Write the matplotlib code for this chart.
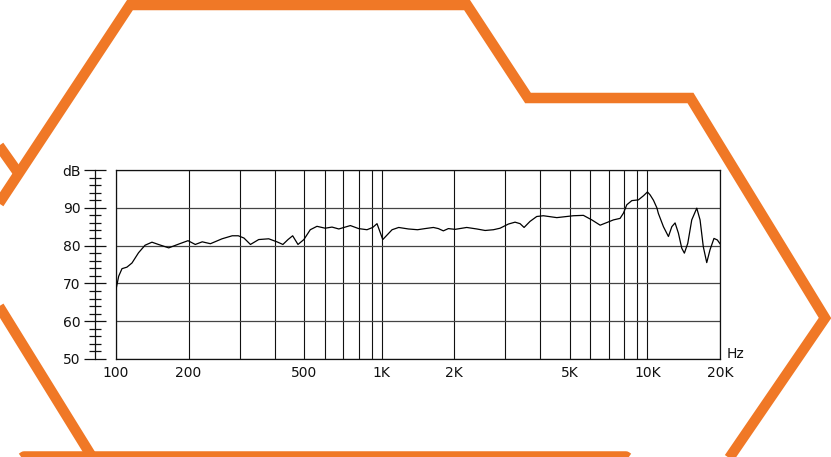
import numpy as np
import matplotlib
matplotlib.use("Agg")
import matplotlib.pyplot as plt
from matplotlib.ticker import FixedLocator, MultipleLocator, NullFormatter

# ---------------- data ----------------
freq_hz = [100, 102.6, 105.9, 111, 116.5, 124, 132, 141, 150, 165.5, 182, 199, 211, 223, 238,
           261, 283, 297, 311, 328, 351, 381, 407, 426, 443, 459, 478, 500, 529, 561, 603,
           638, 675, 745, 800, 863, 910, 952, 1010, 1104, 1176, 1290, 1408, 1513, 1638, 1718,
           1802, 1890, 2013, 2208, 2392, 2556, 2730, 2878, 3077, 3250, 3387, 3500, 3674,
           3883, 4092, 4535, 5170, 5645, 6074, 6510, 6880, 7280, 7710, 7940, 8180, 8560,
           9100, 9600, 10000, 10260, 10590, 10940, 11100, 11650, 12220, 12620, 13020,
           13440, 13880, 14230, 14700, 15270, 16020, 16530, 17050, 17620, 18180, 18880,
           19490, 20000]
level_db = [68.4, 71.9, 73.9, 74.3, 75.4, 78.1, 80.1, 80.9, 80.3, 79.4, 80.4, 81.3, 80.3, 81.0,
            80.5, 81.8, 82.6, 82.6, 82.0, 80.3, 81.6, 81.8, 81.0, 80.3, 81.6, 82.6, 80.3, 81.6,
            84.2, 85.1, 84.6, 84.9, 84.4, 85.3, 84.5, 84.2, 84.8, 85.8, 81.6, 84.2, 84.8, 84.4,
            84.2, 84.5, 84.8, 84.5, 83.9, 84.5, 84.3, 84.8, 84.4, 84.0, 84.2, 84.6, 85.7, 86.2,
            85.8, 84.8, 86.4, 87.7, 87.9, 87.4, 87.9, 88.0, 86.8, 85.4, 86.1, 86.8, 87.2, 88.6,
            90.8, 91.9, 92.1, 93.2, 94.2, 93.4, 92.0, 90.0, 88.5, 85.0, 82.4, 85.0, 86.0, 83.3,
            79.3, 78.0, 80.6, 86.8, 89.9, 86.8, 79.7, 75.5, 78.9, 81.9, 81.5, 80.5]

x_label_ticks = [100, 200, 500, 1000, 2000, 5000, 10000, 20000]
x_label_text = ["100", "200", "500", "1K", "2K", "5K", "10K", "20K"]
x_grid_minor = [300, 400, 600, 700, 800, 900, 3000, 4000, 6000, 7000, 8000, 9000]
y_major = [50, 60, 70, 80, 90, 100]
y_major_text = ["50", "60", "70", "80", "90", "dB"]

# frequency-axis spacing of the original chart (fraction of a decade per mantissa)
scale_mantissa = [1, 2, 3, 4, 5, 6, 7, 8, 9, 10]
scale_fraction = [0.0, 0.273, 0.465, 0.597, 0.707, 0.785, 0.855, 0.913, 0.962, 1.0]
LOG_MANT = np.log10(scale_mantissa)


def fwd(f):
    f = np.asarray(f, float)
    lf = np.log10(np.clip(f, 1e-6, None))
    d = np.floor(lf)
    return d + np.interp(lf - d, LOG_MANT, scale_fraction)


def inv(p):
    p = np.asarray(p, float)
    d = np.floor(p)
    return 10 ** (d + np.interp(p - d, scale_fraction, LOG_MANT))


# decorative orange outline (figure pixel coordinates)
ORANGE = "#F07826"
big_hex = [(-10, 217), (130, 5), (467, 5), (528, 98), (690.5, 98), (825, 318), (721, 470)]
small_edge = [(-10, 133), (19, 174)]
lower_left = [(-8, 295), (97, 465)]
bottom_band = [(2, 472), (24, 456.5), (626, 456.5), (648, 472)]

W, H, DPI = 831, 457, 100
fig = plt.figure(figsize=(W / DPI, H / DPI), dpi=DPI)
fig.patch.set_facecolor("white")

bg = fig.add_axes([0, 0, 1, 1], zorder=0)
bg.set_xlim(0, W)
bg.set_ylim(H, 0)
bg.axis("off")
lw_or = 10.5 * 72 / DPI
for pts in (small_edge, lower_left, bottom_band):
    xs, ys = zip(*pts)
    bg.plot(xs, ys, color=ORANGE, lw=lw_or, solid_joinstyle="round", solid_capstyle="butt")
xs, ys = zip(*big_hex)
bg.plot(xs, ys, color=ORANGE, lw=lw_or, solid_joinstyle="miter", solid_capstyle="butt")

# main chart
left, right, top, bottom = 116, 720, 170, 359
ax = fig.add_axes([left / W, (H - bottom) / H, (right - left) / W, (bottom - top) / H], zorder=2)
ax.set_facecolor("none")
ax.set_xscale("function", functions=(fwd, inv))
ax.set_xlim(100, 20000)
ax.set_ylim(50, 100)

ax.xaxis.set_major_locator(FixedLocator(x_label_ticks))
ax.set_xticklabels(x_label_text)
ax.xaxis.set_minor_locator(FixedLocator(x_grid_minor))
ax.xaxis.set_minor_formatter(NullFormatter())
ax.set_yticks(y_major)
ax.tick_params(axis="x", which="both", length=0, pad=5, labelsize=10, labelcolor="#111")
ax.tick_params(axis="y", which="both", left=False, labelleft=False)
ax.grid(True, axis="x", which="both", color="#111", lw=0.8)
ax.grid(True, axis="y", which="major", color="#444", lw=0.9)
ax.set_axisbelow(True)
for s in ax.spines.values():
    s.set_color("#111")
    s.set_linewidth(0.9)

ax.plot(freq_hz, level_db, color="black", lw=0.9, zorder=3)

# offset dB axis with crossing ticks
sec = ax.secondary_yaxis((94.5 - left) / (right - left))
sec.set_yticks(y_major)
sec.set_yticklabels(y_major_text)
sec.yaxis.set_minor_locator(MultipleLocator(2))
sec.tick_params(which="major", direction="inout", length=22 * 72 / DPI, width=0.9,
                labelsize=10, pad=2, color="#111", labelcolor="#111")
sec.tick_params(which="minor", direction="inout", length=12 * 72 / DPI, width=0.9, color="#111")
sec.spines["left"].set_linewidth(0.9)
sec.spines["left"].set_color("#111")

fig.text(727 / W, (H - 358) / H, "Hz", fontsize=10, ha="left", va="baseline", color="#111")

fig.savefig("out.png", dpi=DPI)
